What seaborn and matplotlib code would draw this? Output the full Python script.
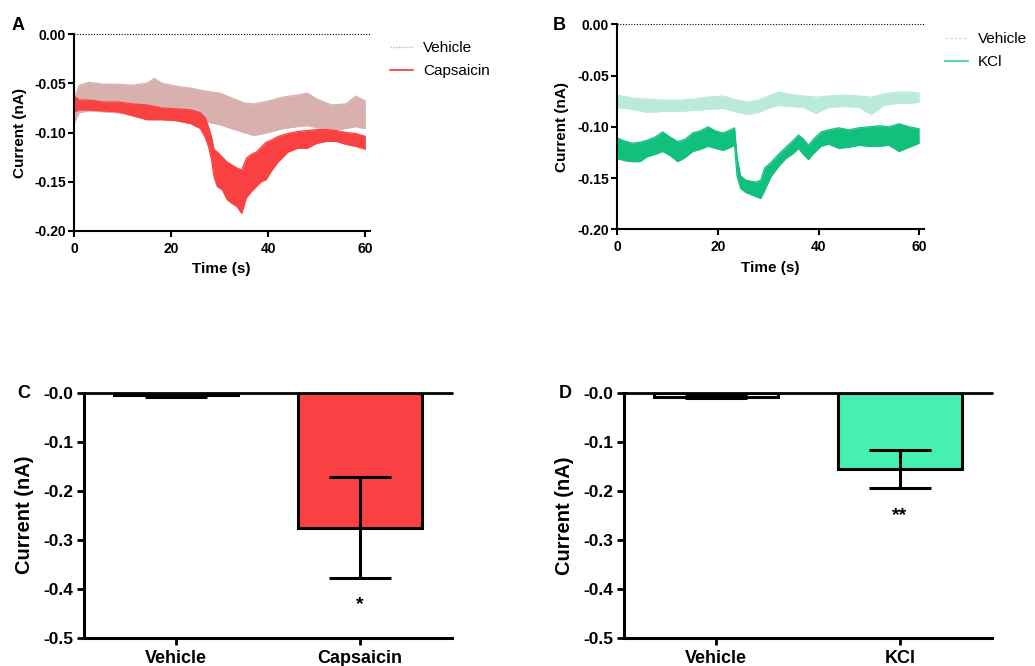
import numpy as np
import pandas as pd
import matplotlib
matplotlib.use("Agg")
import matplotlib.pyplot as plt
from matplotlib.lines import Line2D
from matplotlib.ticker import FuncFormatter
import seaborn as sns

# ---------------- data ----------------
# Panel A : capsaicin trace envelope (nA)
capA_t = [0, 1, 3, 6, 9, 12, 15, 18, 21, 24, 26, 27, 27.7, 28.3, 28.8, 29.5, 30.5, 31.5, 32.5,
          33.5, 34.5, 35.5, 36.5, 37.5, 38.5, 39.5, 40.5, 42, 44, 46, 48, 50, 52, 54, 56, 58, 60]
capA_hi = [-0.063, -0.067, -0.067, -0.069, -0.069, -0.071, -0.072, -0.075, -0.076, -0.077, -0.080,
           -0.085, -0.095, -0.105, -0.117, -0.120, -0.125, -0.130, -0.133, -0.136, -0.138, -0.126,
           -0.122, -0.120, -0.115, -0.110, -0.108, -0.104, -0.101, -0.099, -0.098, -0.097, -0.097,
           -0.098, -0.100, -0.101, -0.104]
capA_lo = [-0.079, -0.077, -0.077, -0.078, -0.079, -0.083, -0.087, -0.087, -0.088, -0.091, -0.096,
           -0.105, -0.115, -0.128, -0.145, -0.155, -0.158, -0.168, -0.172, -0.175, -0.182, -0.166,
           -0.160, -0.155, -0.150, -0.148, -0.140, -0.130, -0.120, -0.116, -0.116, -0.111, -0.109,
           -0.109, -0.112, -0.114, -0.117]
# Panel A : vehicle trace envelope
vehA_t = [0, 1, 3, 6, 9, 12, 15, 16.5, 18, 21, 24, 27, 30, 33, 35, 37, 40, 43, 46, 48, 50, 53, 56, 58, 60]
vehA_hi = [-0.065, -0.052, -0.049, -0.051, -0.051, -0.052, -0.050, -0.045, -0.050, -0.053, -0.055,
           -0.058, -0.060, -0.066, -0.070, -0.071, -0.068, -0.064, -0.062, -0.060, -0.066, -0.072,
           -0.071, -0.063, -0.068]
vehA_lo = [-0.090, -0.080, -0.078, -0.079, -0.080, -0.081, -0.082, -0.083, -0.084, -0.085, -0.087,
           -0.089, -0.092, -0.097, -0.100, -0.103, -0.100, -0.096, -0.094, -0.093, -0.095, -0.098,
           -0.096, -0.094, -0.096]

# Panel B : KCl trace envelope
kclB_t = [0, 1.5, 3, 4.5, 6, 7.5, 9, 10.5, 12, 13.5, 15, 16.5, 18, 19.5, 21, 22.5, 23.3, 23.8, 24.5,
          25.5, 26.5, 27.5, 28.5, 29.3, 30.5, 32, 33.5, 35, 36, 37, 38, 39, 40.5, 42, 44, 46, 48,
          50, 52, 54, 56, 58, 60]
kclB_hi = [-0.111, -0.114, -0.116, -0.115, -0.113, -0.110, -0.105, -0.110, -0.1145, -0.112, -0.106,
           -0.104, -0.100, -0.104, -0.106, -0.103, -0.101, -0.130, -0.148, -0.152, -0.153, -0.154,
           -0.152, -0.140, -0.135, -0.127, -0.120, -0.113, -0.108, -0.112, -0.118, -0.112, -0.105,
           -0.103, -0.101, -0.103, -0.101, -0.100, -0.099, -0.100, -0.097, -0.100, -0.102]
kclB_lo = [-0.131, -0.133, -0.134, -0.134, -0.129, -0.127, -0.124, -0.128, -0.134, -0.130, -0.124,
           -0.122, -0.119, -0.121, -0.123, -0.120, -0.118, -0.148, -0.160, -0.164, -0.166, -0.168,
           -0.170, -0.162, -0.149, -0.139, -0.131, -0.126, -0.121, -0.127, -0.132, -0.126, -0.119,
           -0.117, -0.121, -0.120, -0.118, -0.119, -0.119, -0.118, -0.124, -0.120, -0.116]
# Panel B : vehicle trace envelope
vehB_t = [0, 3, 6, 9, 12, 15, 18, 21, 24, 26, 28, 30, 32, 34, 37, 39.5, 42, 45, 48, 50.5, 53, 56, 58, 60]
vehB_hi = [-0.069, -0.072, -0.073, -0.074, -0.074, -0.073, -0.071, -0.070, -0.074, -0.076, -0.074,
           -0.070, -0.066, -0.068, -0.070, -0.071, -0.070, -0.069, -0.070, -0.071, -0.068, -0.066,
           -0.066, -0.067]
vehB_lo = [-0.081, -0.083, -0.086, -0.085, -0.085, -0.084, -0.083, -0.082, -0.086, -0.088, -0.086,
           -0.082, -0.079, -0.080, -0.081, -0.087, -0.081, -0.080, -0.081, -0.088, -0.079, -0.077,
           -0.077, -0.076]

# Panels C and D : mean peak current and SEM
barC_cats = ["Vehicle", "Capsaicin"]
barC_mean = [-0.005, -0.276]
barC_sem = [0.003, 0.103]
barC_sig = ["", "*"]

barD_cats = ["Vehicle", "KCl"]
barD_mean = [-0.008, -0.155]
barD_sem = [0.003, 0.039]
barD_sig = ["", "**"]

trace_xticks = [0, 20, 40, 60]
trace_yticks = [0.00, -0.05, -0.10, -0.15, -0.20]
bar_yticks = [0.0, -0.1, -0.2, -0.3, -0.4, -0.5]

# ---------------- styling ----------------
sns.set_style("ticks")
plt.rcParams["font.family"] = ["Liberation Sans", "DejaVu Sans"]
plt.rcParams["axes.unicode_minus"] = False
plt.rcParams["font.weight"] = "bold"
for k in ("text.color", "axes.labelcolor", "xtick.color", "ytick.color", "axes.edgecolor"):
    plt.rcParams[k] = "black"

RED = "#F94141"
PINK = "#D8B1AE"
GREEN = "#12C07D"
LGREEN = "#B9EBD8"
BAR_RED = "#F94144"
BAR_GREEN = "#45F0B1"

fig = plt.figure(figsize=(10.35, 6.66), dpi=100)
W, H = 1035.0, 666.0


def ax_at(x0, x1, ytop, ybot):
    return fig.add_axes([x0 / W, 1 - ybot / H, (x1 - x0) / W, (ybot - ytop) / H])


def trace_panel(ax, series, legend_items, legend_xy, letter_xy, letter, ylab_x, xlab_xy):
    for t, lo, hi, col in series:
        ax.fill_between(t, lo, hi, color=col, lw=0, zorder=2)
        df = pd.DataFrame({"t": t, "lo": lo, "hi": hi})
        sns.lineplot(data=df, x="t", y="lo", ax=ax, color=col, lw=0.9, zorder=2)
        sns.lineplot(data=df, x="t", y="hi", ax=ax, color=col, lw=0.9, zorder=2)
    ax.axhline(0, color="black", lw=0.8, ls=(0, (1, 1.5)), clip_on=False, zorder=3)
    ax.set_xlim(0, 60.85)
    ax.set_ylim(-0.2, 0)
    ax.set_xticks(trace_xticks)
    ax.set_yticks(trace_yticks)
    ax.yaxis.set_major_formatter(FuncFormatter(lambda v, p: f"{v:.2f}" if v != 0 else "0.00"))
    sns.despine(ax=ax)
    for s in ("left", "bottom"):
        ax.spines[s].set_linewidth(1.5)
    ax.tick_params(axis="both", width=1.5, length=4.3, labelsize=10, direction="out")
    ax.tick_params(axis="y", pad=1.5)
    ax.tick_params(axis="x", pad=3.5)
    for lab in ax.get_xticklabels() + ax.get_yticklabels():
        lab.set_fontweight("bold")
    ax.set_xlabel("Time (s)", fontsize=11, fontweight="bold")
    ax.set_ylabel("Current (nA)", fontsize=11, fontweight="bold")
    ax.yaxis.set_label_coords(ylab_x / W, ax.get_position().y0 + ax.get_position().height / 2,
                              transform=fig.transFigure)
    ax.xaxis.set_label_coords(xlab_xy[0] / W, 1 - xlab_xy[1] / H, transform=fig.transFigure)
    handles = [Line2D([], [], color=c, ls=ls, lw=lw) for c, ls, lw in legend_items[1]]
    fig.legend(handles, legend_items[0], loc="upper left",
               bbox_to_anchor=(legend_xy[0] / W, 1 - legend_xy[1] / H),
               frameon=False, borderpad=0, borderaxespad=0, handlelength=1.5,
               handletextpad=0.65, labelspacing=0.6,
               prop={"size": 11, "weight": "normal"})
    fig.text(letter_xy[0] / W, 1 - letter_xy[1] / H, letter, fontsize=13, fontweight="bold",
             ha="center", va="center")


def bar_panel(ax, cats, means, sems, sigs, color, letter_xy, letter, ylab_x, sig_y):
    df = pd.DataFrame({"cat": cats, "val": means})
    sns.barplot(data=df, x="cat", y="val", ax=ax, order=cats, hue="cat",
                palette={cats[0]: "white", cats[1]: color}, legend=False, saturation=1,
                width=0.676, edgecolor="black", linewidth=2.2, errorbar=None, zorder=2)
    ax.errorbar(range(len(cats)), means, yerr=sems, fmt="none", ecolor="black",
                elinewidth=2.2, capsize=22.5, capthick=2.2, zorder=3)
    for i, s in enumerate(sigs):
        if s:
            ax.text(i, sig_y[i], s, ha="center", va="center", fontsize=14, fontweight="bold")
    ax.axhline(0, color="black", lw=2.0, clip_on=False, zorder=4)
    ax.set_xlim(-0.5, 1.5)
    ax.set_ylim(-0.5, 0)
    ax.set_yticks(bar_yticks)
    ax.yaxis.set_major_formatter(FuncFormatter(lambda v, p: f"-{abs(v):.1f}"))
    sns.despine(ax=ax)
    for s in ("left", "bottom"):
        ax.spines[s].set_linewidth(2.2)
    ax.tick_params(axis="both", width=2.0, length=5, direction="out")
    ax.tick_params(axis="y", labelsize=12.5, pad=2.5)
    ax.tick_params(axis="x", labelsize=13, pad=3.5)
    for lab in ax.get_xticklabels() + ax.get_yticklabels():
        lab.set_fontweight("bold")
    ax.set_xlabel("")
    ax.set_ylabel("Current (nA)", fontsize=14.5, fontweight="bold")
    ax.yaxis.set_label_coords(ylab_x / W, ax.get_position().y0 + ax.get_position().height / 2,
                              transform=fig.transFigure)
    fig.text(letter_xy[0] / W, 1 - letter_xy[1] / H, letter, fontsize=13, fontweight="bold",
             ha="center", va="center")


axA = ax_at(74.3, 369.5, 34, 231)
trace_panel(axA,
            [(vehA_t, vehA_lo, vehA_hi, PINK), (capA_t, capA_lo, capA_hi, RED)],
            (["Vehicle", "Capsaicin"], [(PINK, (0, (1, 1)), 1.0), (RED, "-", 1.3)]),
            (390, 41), (18.5, 25.5), "A", 27, (221, 262))

axB = ax_at(617.3, 923.5, 24.3, 229.3)
trace_panel(axB,
            [(vehB_t, vehB_lo, vehB_hi, LGREEN), (kclB_t, kclB_lo, kclB_hi, GREEN)],
            (["Vehicle", "KCl"], [(LGREEN, (0, (2, 1.2)), 1.0), ("#5FD4A6", "-", 1.6)]),
            (945, 32), (559, 25), "B", 569, (770.5, 261))

axC = ax_at(83.7, 451.7, 392.7, 637.7)
bar_panel(axC, barC_cats, barC_mean, barC_sem, barC_sig, BAR_RED, (24, 393), "C", 34,
          [0, -0.432])

axD = ax_at(623.7, 992.0, 392.7, 638.3)
bar_panel(axD, barD_cats, barD_mean, barD_sem, barD_sig, BAR_GREEN, (565, 393), "D", 574,
          [0, -0.250])

fig.savefig("out.png", dpi=100)
